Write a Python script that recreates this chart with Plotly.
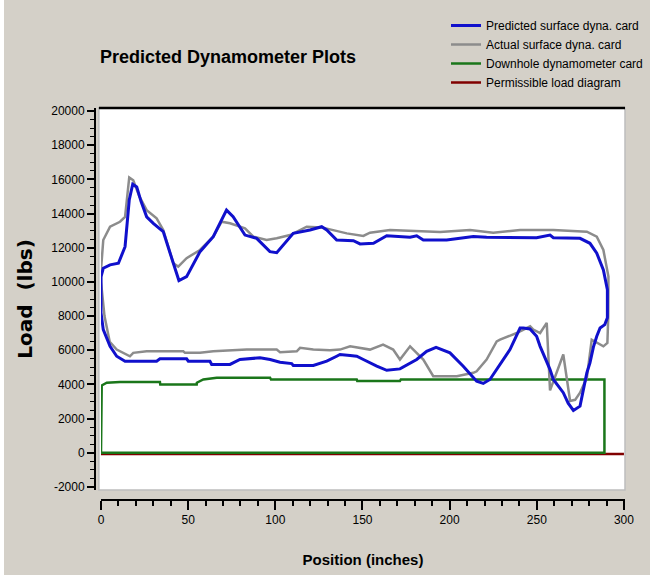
import plotly.graph_objects as go

# ---------------- data ----------------
pred_x = [0, 1.3, 5.2, 10, 13.8, 16.2, 18.2, 20.5, 23, 26.2, 30, 35.7, 41.5, 44.7, 49.1,
          56.8, 64.4, 72, 75.8, 82.6, 89.3, 96.9, 100.8, 110.3, 119.9, 126.6, 129.5, 135.2,
          144.8, 148.6, 156.3, 163.9, 177.3, 181.1, 184.9, 198.3, 213.6, 221.2, 249.9, 257.6,
          259.5, 274.8, 280.5, 284.4, 288.2, 290.5, 290.5,
          289, 286.3, 284.4, 282.5, 280.5, 278.7, 274.8, 271, 268, 265.2, 259.5, 257.6, 251.9,
          249.9, 246.1, 242.3, 240.4, 234.6, 223.1, 219.3, 215.5, 207.8, 200.2, 192.2, 186.8,
          181.1, 171.5, 163.9, 158.2, 150.5, 146.7, 142.9, 137.1, 135.2, 129.5, 121.8, 110.3,
          109.4, 102.7, 97, 91.2, 79.7, 74, 63.5, 62.5, 50.1, 49.1, 33.8, 31.9, 13.8, 9, 5.2,
          1.3, 0, 0]
pred_y = [10300, 10800, 11000, 11090, 12060, 14790, 15720, 15560, 14700, 13810, 13430, 12940,
          11090, 10080, 10310, 11770, 12650, 14200, 13810, 12740, 12550, 11770, 11710, 12840,
          13040, 13230, 13040, 12450, 12410, 12220, 12260, 12700, 12610, 12700, 12450, 12450,
          12650, 12610, 12590, 12740, 12590, 12550, 12260, 11680, 10700, 9540, 7900,
          7500, 7300, 6820, 6200, 5260, 4680, 2730, 2480, 2900, 3520, 4290, 4870, 6230,
          6820, 7250, 7300, 7300, 6040, 4290, 4060, 4190, 5070, 5850, 6170, 5940,
          5460, 4910, 4830, 5070, 5460, 5650, 5690, 5750, 5650, 5360, 5110, 5110,
          5220, 5300, 5460, 5560, 5460, 5170, 5170, 5360, 5360, 5500, 5500, 5360, 5360, 5650, 6230,
          7210, 8200, 10300]

act_x = [0, 1.3, 5.2, 10.9, 13.8, 16.2, 18.5, 22, 26.2, 31.9, 35.7, 41.5, 44.3, 49.1, 56.8,
         64.4, 69.2, 74, 82.6, 87.4, 95, 100.8, 108.5, 118, 126.6, 131.4, 141, 150.5, 154.3,
         165.8, 194.5, 211.7, 225, 240.4, 259.5, 278.7, 284.4, 288.2, 291.1, 291, 290.5,
         288.2, 281.5, 278.7, 274.8, 272, 269.1, 265.2, 257.6, 255.7, 251.9, 248, 246.2, 240.4,
         238.5, 228.9, 227, 221.2, 215.5, 213.6, 204.1, 190.6, 184.9, 177.3, 171.5, 167.6,
         161.8, 154.3, 148.6, 142.9, 137.1, 131.4, 121.8, 114.2, 112.3, 102.7, 100.8, 83.6,
         64.4, 56.8, 48.2, 47.2, 26.2, 18.5, 16.6, 9, 5, 2, 0, 0]
act_y = [10700, 12450, 13230, 13520, 13810, 16110, 15950, 15000, 14200, 13720, 13040, 11090,
         10900, 11390, 11870, 12650, 13520, 13430, 13140, 12650, 12450, 12550, 12740, 13230,
         13190, 13080, 12840, 12690, 12880, 13040, 12920, 13040, 12880, 13040, 13040, 12940,
         12650, 11870, 10310, 8000, 6430,
         6230, 6620, 4390, 3520, 3100, 3030, 5750, 3650, 7600, 7010, 7210, 7400, 7110,
         7010, 6620, 6520, 5460, 4770, 4680, 4480, 4480, 5460, 6230, 5460, 6040,
         6330, 6040, 6140, 6230, 6040, 6000, 6040, 6140, 5940, 5890, 6040, 6040,
         5940, 5850, 5850, 5940, 5940, 5850, 5650, 6040, 6500, 8000, 10000, 10700]

down_x = [0, 0, 0.4, 3.3, 10.9, 33.8, 34, 54.9, 55, 58.7, 66.4, 97, 97.5, 146.7, 147, 171.5,
          172, 288.8, 288.8, 0]
down_y = [0, 3900, 3940, 4100, 4150, 4150, 3990, 3990, 4100, 4290, 4390, 4390, 4290, 4290,
          4200, 4200, 4290, 4290, 0, 0]

perm_x = [0, 300]
perm_y = [-70, -70]

x_ticks = [0, 50, 100, 150, 200, 250, 300]
x_labels = ["0", "50", "100", "150", "200", "250", "300"]
y_ticks = [-2000, 0, 2000, 4000, 6000, 8000, 10000, 12000, 14000, 16000, 18000, 20000]
y_labels = ["-2000", "0", "2000", "4000", "6000", "8000", "10000", "12000", "14000",
            "16000", "18000", "20000"]

# ---------------- figure ----------------
BG = "#D4D0C8"
FONT = "Liberation Sans, Arial, sans-serif"

fig = go.Figure()
fig.add_trace(go.Scatter(x=perm_x, y=perm_y, mode="lines", name="Permissible load diagram",
                         line=dict(color="#800000", width=2.5), legendrank=4))
fig.add_trace(go.Scatter(x=down_x, y=down_y, mode="lines", name="Downhole dynamometer card",
                         line=dict(color="#1A761A", width=2.5), legendrank=3))
fig.add_trace(go.Scatter(x=act_x, y=act_y, mode="lines", name="Actual surface dyna. card",
                         line=dict(color="#8C8C8C", width=2.5), legendrank=2))
fig.add_trace(go.Scatter(x=pred_x, y=pred_y, mode="lines", name="Predicted surface dyna. card",
                         line=dict(color="#1010CC", width=3), legendrank=1))

W, H = 650, 575
ML, MR, MT, MB = 95, 25, 108, 75
PW = W - ML - MR
PH = H - MT - MB
x_dom0 = (101 - ML) / PW
y_dom0 = (H - MB - 490) / PH

fig.update_layout(
    width=W, height=H,
    margin=dict(l=ML, r=MR, t=MT, b=MB, pad=0, autoexpand=False),
    paper_bgcolor=BG, plot_bgcolor=BG,
    font=dict(family=FONT, size=12, color="black"),
    title=dict(text="<b>Predicted Dynamometer Plots</b>",
               font=dict(family=FONT, size=18, color="black"),
               x=100 / W, xref="container", xanchor="left",
               y=1 - 57 / H, yref="container", yanchor="middle"),
    showlegend=True,
    legend=dict(x=(446 - ML) / PW, xanchor="left", y=(H - MB - 11) / PH, yanchor="top",
                bgcolor="rgba(0,0,0,0)", borderwidth=0,
                font=dict(family=FONT, size=12, color="black"),
                tracegroupgap=0),
    xaxis=dict(domain=[x_dom0, 1], range=[0, 300.6], anchor="free", position=0,
               tickvals=x_ticks, ticktext=x_labels, ticks="outside", ticklen=9, tickwidth=1.5,
               tickcolor="black",
               showline=True, linecolor="black", linewidth=2, showgrid=False, zeroline=False,
               minor=dict(dtick=10, ticks="outside", ticklen=5, tickwidth=1.5, tickcolor="black",
                          showgrid=False),
               tickfont=dict(family=FONT, size=12),
               title=dict(text="<b>Position (inches)</b>", standoff=27,
                          font=dict(family=FONT, size=15))),
    yaxis=dict(domain=[y_dom0, 1], range=[-2176, 20176], anchor="free", position=0,
               tickvals=y_ticks, ticktext=y_labels, ticks="outside", ticklen=7, tickwidth=1.5,
               tickcolor="black",
               showline=True, linecolor="black", linewidth=2, showgrid=False, zeroline=False,
               minor=dict(dtick=500, ticks="outside", ticklen=4, tickwidth=1, tickcolor="black",
                          showgrid=False),
               tickfont=dict(family=FONT, size=12),
               title=dict(text="<b>Load  (lbs)</b>", standoff=12,
                          font=dict(family="DejaVu Sans", size=20))),
    shapes=[
        dict(type="rect", xref="x domain", yref="y domain", x0=-0.004, x1=1, y0=0, y1=1,
             fillcolor="white", line=dict(color="#BDBDBD", width=1.5), layer="below"),
        dict(type="line", xref="x domain", yref="y domain", x0=-0.004, x1=1, y0=1, y1=1,
             line=dict(color="black", width=2.5), layer="above"),
        dict(type="rect", xref="paper", yref="paper", x0=-ML / PW, x1=(4 - ML) / PW,
             y0=-MB / PH, y1=(H - MB) / PH, fillcolor="white", line=dict(width=0),
             layer="below"),
    ],
)

fig.write_html("out.html", config={"displayModeBar": False},
               post_script="document.body.style.margin='0';document.body.style.overflow='hidden';")
